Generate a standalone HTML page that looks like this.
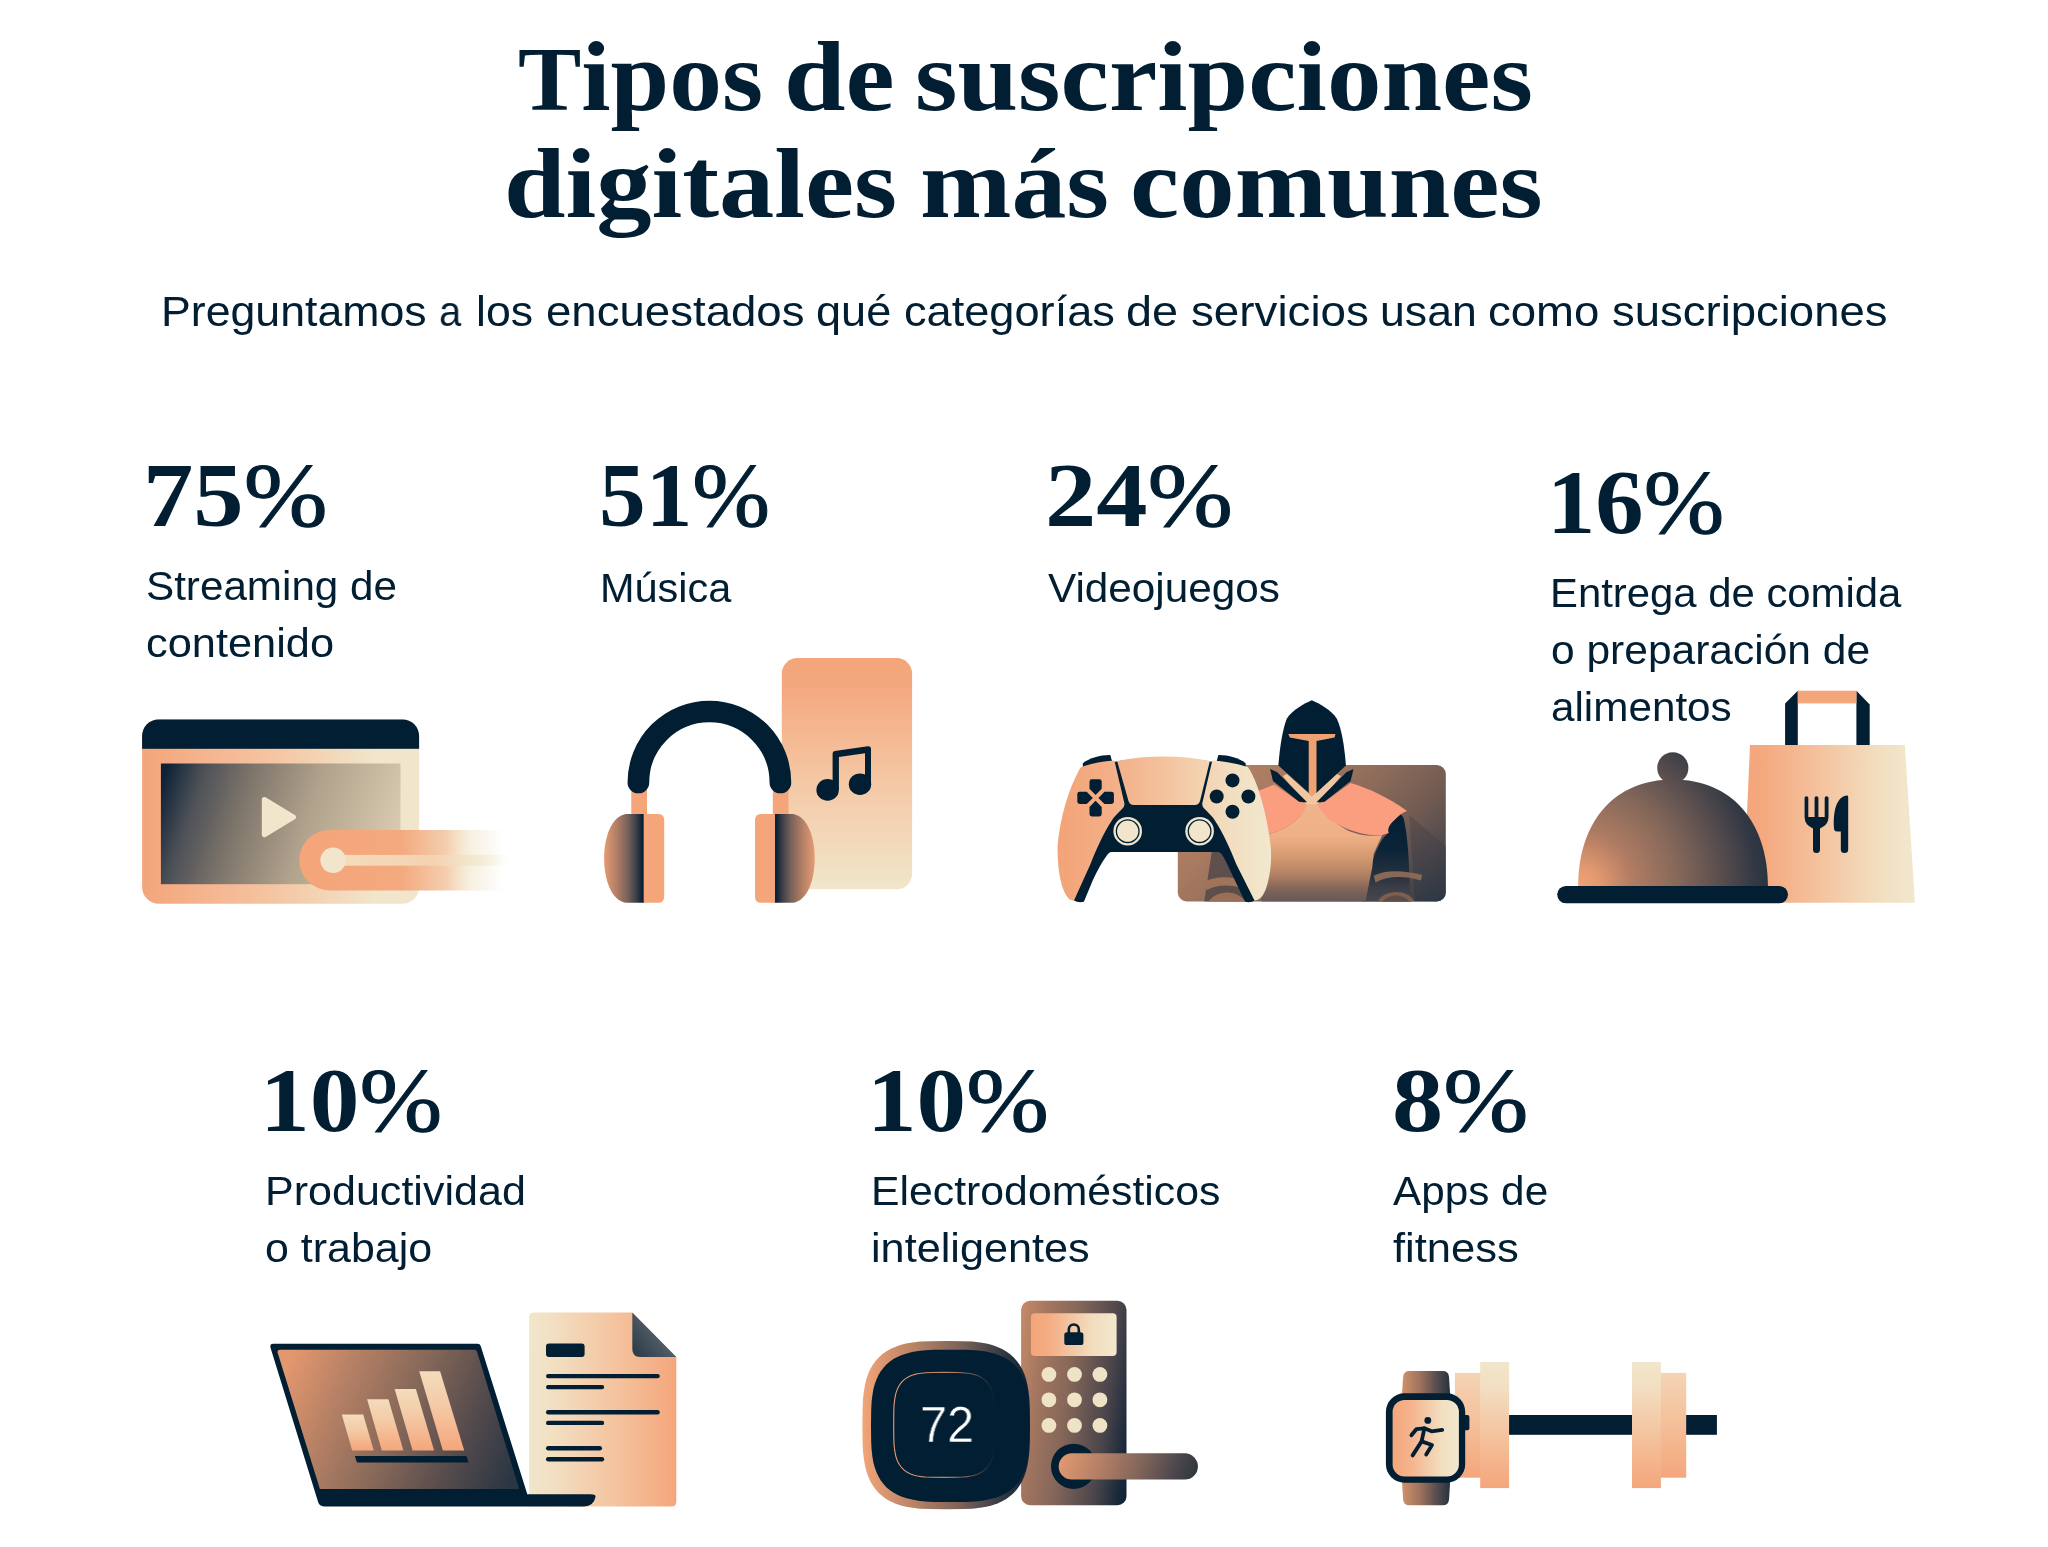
<!DOCTYPE html>
<html lang="es">
<head>
<meta charset="utf-8">
<title>Tipos de suscripciones digitales más comunes</title>
<style>
html,body{margin:0;padding:0;background:#fff;}
body{width:2048px;height:1547px;position:relative;overflow:hidden;font-family:"Liberation Sans",sans-serif;color:#011e32;}
.t{position:absolute;white-space:nowrap;line-height:1;transform-origin:0 0;margin:0;will-change:transform;}
.s{font-family:"Liberation Sans",sans-serif;font-weight:400;}
.h,.p{font-family:"Liberation Serif",serif;font-weight:700;}
svg.ic{position:absolute;left:0;top:0;width:2048px;height:1547px;overflow:visible;}
</style>
</head>
<body>
<svg class="ic" viewBox="0 0 2048 1547">
<!-- streaming window -->
<defs>
<linearGradient id="s1f" gradientUnits="userSpaceOnUse" x1="142" y1="0" x2="419" y2="0"><stop offset="0" stop-color="#f4a57a"/><stop offset="0.45" stop-color="#f5c3a0"/><stop offset="0.85" stop-color="#f1e6cb"/><stop offset="1" stop-color="#f1e6cb"/></linearGradient>
<linearGradient id="s1s" gradientUnits="userSpaceOnUse" x1="161" y1="785" x2="400" y2="862"><stop offset="0" stop-color="#0d2237"/><stop offset="0.14" stop-color="#4c5056"/><stop offset="0.34" stop-color="#80776c"/><stop offset="0.6" stop-color="#b1a28c"/><stop offset="1" stop-color="#ddcfb4"/></linearGradient>
<linearGradient id="s1p" gradientUnits="userSpaceOnUse" x1="299" y1="0" x2="503" y2="0"><stop offset="0" stop-color="#f4a57a"/><stop offset="0.5" stop-color="#f4a97f"/><stop offset="0.72" stop-color="#f3cba8" stop-opacity="0.95"/><stop offset="0.84" stop-color="#f1e6cb" stop-opacity="0.6"/><stop offset="1" stop-color="#f1e6cb" stop-opacity="0"/></linearGradient>
<linearGradient id="s1l" gradientUnits="userSpaceOnUse" x1="333" y1="0" x2="508" y2="0"><stop offset="0" stop-color="#f3ddbe"/><stop offset="0.55" stop-color="#f4d2b1"/><stop offset="0.8" stop-color="#f1e6cb" stop-opacity="0.8"/><stop offset="1" stop-color="#f1e6cb" stop-opacity="0"/></linearGradient>
<clipPath id="s1c"><rect x="142.1" y="719.5" width="277" height="184.2" rx="16.5"/></clipPath>
</defs>
<g clip-path="url(#s1c)">
<rect x="142" y="719" width="278" height="186" fill="url(#s1f)"/>
<rect x="142" y="719" width="278" height="29.8" fill="#011e32"/>
</g>
<rect x="160.9" y="763.5" width="239.6" height="120.7" fill="url(#s1s)"/>
<path d="M264.3 799.5 L293.5 817.15 L264.3 834.8Z" fill="#f1e6cb" stroke="#f1e6cb" stroke-width="5" stroke-linejoin="round"/>
<path d="M329.5 829.9 H504 V890.4 H329.5 A30.25 30.25 0 0 1 329.5 829.9Z" fill="url(#s1p)"/>
<rect x="333" y="854.9" width="175" height="10.8" fill="url(#s1l)"/>
<circle cx="333.1" cy="860.2" r="12.7" fill="#f1e6cb"/>
<!-- music: phone + headphones -->
<defs>
<linearGradient id="m2p" x1="0" y1="0" x2="0" y2="1"><stop offset="0" stop-color="#f4a57a"/><stop offset="0.12" stop-color="#f4a87e"/><stop offset="0.55" stop-color="#f4c9a6"/><stop offset="1" stop-color="#f1e6cb"/></linearGradient>
<linearGradient id="m2l" gradientUnits="userSpaceOnUse" x1="604" y1="0" x2="643.7" y2="0"><stop offset="0" stop-color="#e59c73"/><stop offset="0.3" stop-color="#b58066"/><stop offset="0.6" stop-color="#77615a"/><stop offset="0.82" stop-color="#3a3e48"/><stop offset="0.95" stop-color="#0f2337"/><stop offset="1" stop-color="#0a2036"/></linearGradient>
<linearGradient id="m2r" gradientUnits="userSpaceOnUse" x1="814.7" y1="0" x2="774.9" y2="0"><stop offset="0" stop-color="#e59c73"/><stop offset="0.3" stop-color="#b58066"/><stop offset="0.6" stop-color="#77615a"/><stop offset="0.82" stop-color="#3a3e48"/><stop offset="0.95" stop-color="#0f2337"/><stop offset="1" stop-color="#0a2036"/></linearGradient>
</defs>
<rect x="781.8" y="658.1" width="130.3" height="231.2" rx="15.5" fill="url(#m2p)"/>
<!-- note -->
<g fill="#011e32">
<ellipse cx="827.6" cy="789.9" rx="11.2" ry="10.8"/>
<ellipse cx="860" cy="784.2" rx="11.2" ry="10.8"/>
<path d="M832.6 790 V753.6 Q832.6 751.4 834.8 751 L867.8 746.3 Q871 746 871 749 V784 H865 V753.3 L838.9 757 V790Z"/>
</g>
<!-- stems -->
<rect x="631.3" y="786" width="15.7" height="30" fill="#f4a57a"/>
<rect x="772.8" y="786" width="15.7" height="30" fill="#f4a57a"/>
<!-- band -->
<path d="M638.4 782.5 A71 71 0 0 1 780.4 782.5" fill="none" stroke="#011e32" stroke-width="21.7" stroke-linecap="round"/>
<!-- left ear -->
<path d="M644 814.1 H626 C611 816.5 604.1 838 604.1 858.4 C604.1 879 611 900.5 626 902.7 H644Z" fill="url(#m2l)"/>
<path d="M643.7 814.1 H658.2 Q664.2 814.1 664.2 820.1 V896.7 Q664.2 902.7 658.2 902.7 H643.7Z" fill="#f4a57a"/>
<!-- right ear -->
<path d="M774.6 814.1 H793 C808 816.5 814.7 838 814.7 858.4 C814.7 879 808 900.5 793 902.7 H774.6Z" fill="url(#m2r)"/>
<path d="M774.9 814.1 H761 Q755 814.1 755 820.1 V896.7 Q755 902.7 761 902.7 H774.9Z" fill="#f4a57a"/>
<!-- games: knight card + controller -->
<defs>
<linearGradient id="g3bg" gradientUnits="userSpaceOnUse" x1="1178" y1="765" x2="1404.7" y2="1008.3"><stop offset="0" stop-color="#b98564"/><stop offset="0.25" stop-color="#a87a60"/><stop offset="0.45" stop-color="#8b6a59"/><stop offset="0.6" stop-color="#6f5a52"/><stop offset="0.74" stop-color="#4b464b"/><stop offset="0.85" stop-color="#2b3644"/><stop offset="1" stop-color="#2b3644"/></linearGradient>
<linearGradient id="g3ch" gradientUnits="userSpaceOnUse" x1="0" y1="803" x2="0" y2="902"><stop offset="0" stop-color="#efb58c"/><stop offset="0.33" stop-color="#efb087"/><stop offset="0.44" stop-color="#e3a57b"/><stop offset="0.58" stop-color="#cf956d"/><stop offset="0.73" stop-color="#b08063"/><stop offset="0.87" stop-color="#80655a"/><stop offset="1" stop-color="#675757"/></linearGradient>
<linearGradient id="g3arm" gradientUnits="userSpaceOnUse" x1="0" y1="815" x2="0" y2="902"><stop offset="0" stop-color="#031e33"/><stop offset="0.4" stop-color="#0c2438"/><stop offset="0.7" stop-color="#27323f"/><stop offset="0.85" stop-color="#3d3f47"/><stop offset="1" stop-color="#4a464b"/></linearGradient>
<linearGradient id="g3ray" gradientUnits="userSpaceOnUse" x1="1409" y1="815" x2="1440" y2="900"><stop offset="0" stop-color="#54484a" stop-opacity="0.55"/><stop offset="1" stop-color="#2b3644" stop-opacity="0.6"/></linearGradient>
<linearGradient id="g3pad" gradientUnits="userSpaceOnUse" x1="1057" y1="0" x2="1271" y2="0"><stop offset="0" stop-color="#f3a377"/><stop offset="0.3" stop-color="#f3b28b"/><stop offset="0.55" stop-color="#f3c7a3"/><stop offset="0.78" stop-color="#f2dcbd"/><stop offset="1" stop-color="#f1e8cf"/></linearGradient>
<clipPath id="g3c"><rect x="1177.8" y="765" width="268" height="136.5" rx="9"/></clipPath>
</defs>
<rect x="1177.8" y="765" width="268" height="136.5" rx="9" fill="url(#g3bg)"/>
<g clip-path="url(#g3c)">
<path d="M1409.2 815.1 L1446.2 846.4 L1446.2 903.3 L1414.9 903.3Z" fill="url(#g3ray)"/>
<!-- left arm shadow + bracers -->
<path d="M1212 850 L1240 850 L1244 903 L1204 903Z" fill="#4f4648" opacity="0.8"/>
<path d="M1203 882 C1215 876 1230 876 1242 880 L1242 888 C1228 884 1216 885 1207 890Z" fill="#a0745a"/>
<path d="M1208 903 C1214 890 1238 888 1246 903Z" fill="#9a6f58"/>
<!-- right arm -->
<path d="M1400.7 813.7 L1403.5 818 C1407.1 832.2 1409.2 853.5 1410.5 903.3 L1362 903.3 C1372 853.5 1380.8 837.9 1388.6 832.9 C1387.2 828.6 1389.3 825.1 1392.9 821.5Z" fill="url(#g3arm)"/>
<path d="M1373.7 875.8 C1386.5 869.2 1403.5 870.6 1422 874.8 L1421 880.5 C1403.5 875.6 1387.9 875.8 1375.6 882.6Z" fill="#8a6858"/>
<path d="M1376.8 903.3 C1381.8 889.1 1409.2 887.6 1415.3 903.3Z" fill="#7c5f50"/>
<path d="M1382 903.3 C1386 893.5 1405 892.5 1410 903.3Z" fill="#5c4d4b"/>
<!-- torso -->
<path d="M1306.1 803 L1317.5 803 C1319.6 809.4 1331 820.8 1348.1 830.8 C1358 835 1370.8 837.2 1382.2 835 L1373.7 853.5 L1372.2 867.7 L1365.1 903.3 L1261.3 903.3 L1261.3 833.6 L1271.3 833.6 C1292.6 826.5 1304 815.1 1306.1 803Z" fill="url(#g3ch)"/>
</g>
<!-- shoulders -->
<path d="M1254.2 792.4 L1274.1 784.6 L1299 801.6 L1306.8 803.7 C1304 815.1 1292.6 826.5 1271.3 833.6 L1254.2 833.6Z" fill="#fb9d7f"/>
<path d="M1316.8 803.7 L1324.5 801.8 L1350.6 783.1 C1368 788.1 1389.3 798.1 1407.1 810.9 C1402.1 812.3 1397.8 816.5 1392.9 821.5 C1389.3 825.1 1387.2 828.6 1388.6 832.9 L1382.2 835 C1368 837.2 1348.1 830.8 1331 820.8 C1323.9 815.1 1319.6 809.4 1316.8 803.7Z" fill="#fb9d7f"/>
<!-- light strips -->
<path d="M1282.7 776 L1286.9 773.9 L1311.8 795.9 L1336.7 773.9 L1341 776 L1317.5 804.2 L1306.1 804.2Z" fill="#f1c7a3"/>
<!-- helmet -->
<path d="M1311.8 700.2 C1319.6 703.5 1331 709.9 1336.7 718.4 C1341.7 728.4 1344.5 746.9 1345.9 765.4 L1316.5 792.7 L1308.7 792.7 L1278.4 765.4 C1279.8 746.9 1282.7 728.4 1286.9 718.4 C1292.6 709.9 1304 703.5 1311.8 700.2Z" fill="#011e32"/>
<path d="M1270.1 768.9 L1277.3 772.2 L1307.1 802.3 L1299.1 801.8 L1273 781Z" fill="#011e32"/>
<path d="M1353.5 768.9 L1346.4 772.2 L1316.5 802.3 L1324.5 801.8 L1350.6 781Z" fill="#011e32"/>
<path d="M1288.3 734.1 L1335.5 734.1 L1334.6 737.6 L1316.5 740.9 L1316.5 792.4 L1311.8 796.5 L1308.7 792.4 L1308.7 740.9 L1289.8 737.6Z" fill="#f0a172"/>

<!-- controller -->
<g>
<path d="M1082.8 763.2 C1090 758 1100 755 1110.3 755.1 L1112 761 L1082.8 767Z" fill="#011e32"/>
<path d="M1245.7 763.2 C1238.5 758 1228.5 755 1218.4 755.1 L1216.7 761 L1245.7 767Z" fill="#011e32"/>
<!-- navy body (inset under grips) -->
<path d="M1097 765 C1120 760 1145 757.4 1163.4 757.4 C1182 757.4 1207 760 1230 765 C1250 790 1260 830 1258 870 C1257 885 1256 895 1254.5 900.6 C1252 902.3 1248 902.5 1245.1 901.7 L1232.2 874.8 C1228 866 1225 859 1222.8 856 Q1220.5 851.9 1218.1 851.9 L1111.5 851.9 Q1109 851.9 1106.5 856 C1104 859 1098 869 1092.7 880.6 L1083.9 901.7 C1081 902.5 1077 902.3 1074 900.6 C1070 895 1068 885 1068 870 C1066 830 1077 790 1097 765Z" fill="#011e32"/>
<!-- left grip -->
<path d="M1080.4 767.5 C1090 763.5 1102 761.5 1114.4 760.5 L1124.4 803.3 Q1125 806 1122 809.1 C1118 813 1114 817 1111.5 820.9 C1104 832 1096 850 1090.4 864.2 L1074 900.6 C1072 900.5 1070 900 1068.7 898.8 C1061 890 1057.2 870 1057.6 845.5 C1060 818 1068 790 1080.4 767.5Z" fill="url(#g3pad)"/>
<!-- right grip -->
<path d="M1247.9 767.1 C1236.7 763.5 1224.7 761.5 1212.3 760.5 L1202.3 803.3 Q1201.7 806 1204.7 809.1 C1208.7 813 1212.7 817 1215.2 820.9 C1222.7 832 1230.7 850 1236.3 864.2 L1254.5 900.6 C1258.5 900.4 1261 898 1263.1 894.8 C1266.5 889.5 1269 879 1270.3 869 C1271.3 861 1271.5 850 1269.9 840.5 C1268.3 828 1265.5 814 1262.1 801.7 C1258.5 788.5 1254 776 1247.9 767.1Z" fill="url(#g3pad)"/>
<!-- touchpad -->
<path d="M1117.1 760.9 C1132 757.6 1148 756.4 1163.4 756.4 C1179 756.4 1195 757.6 1209.9 760.9 L1200 800.9 Q1198.8 805 1194.7 805 L1133.8 805 Q1129.7 805 1128.5 800.9Z" fill="url(#g3pad)"/>
<g fill="#011e32">
<path d="M1091.9 779.3 H1099.3 Q1101.7 779.3 1101.7 781.7 V788.7 L1095.6 795 L1089.5 788.7 V781.7 Q1089.5 779.3 1091.9 779.3Z"/>
<path d="M1091.9 816.4 H1099.3 Q1101.7 816.4 1101.7 814 V807 L1095.6 800.8 L1089.5 807 V814 Q1089.5 816.4 1091.9 816.4Z"/>
<path d="M1077.3 794.2 V801.6 Q1077.3 804 1079.7 804 H1086.7 L1092.8 797.9 L1086.7 791.8 H1079.7 Q1077.3 791.8 1077.3 794.2Z"/>
<path d="M1113.9 794.2 V801.6 Q1113.9 804 1111.5 804 H1104.5 L1098.4 797.9 L1104.5 791.8 H1111.5 Q1113.9 791.8 1113.9 794.2Z"/>
<circle cx="1232.5" cy="780.4" r="7"/><circle cx="1216.7" cy="796.5" r="7"/><circle cx="1248.4" cy="796.5" r="7"/><circle cx="1232.5" cy="811.7" r="7"/>
</g>
<circle cx="1127.7" cy="831.2" r="14.3" fill="#f1e6cb"/><circle cx="1127.7" cy="831.2" r="11.3" fill="none" stroke="#011e32" stroke-width="1.3"/>
<circle cx="1199.6" cy="831.2" r="14.3" fill="#f1e6cb"/><circle cx="1199.6" cy="831.2" r="11.3" fill="none" stroke="#011e32" stroke-width="1.3"/>
</g>
<!-- food: bag + cloche -->
<defs>
<linearGradient id="f4b" gradientUnits="userSpaceOnUse" x1="1743" y1="0" x2="1915" y2="0"><stop offset="0" stop-color="#f4a67b"/><stop offset="0.12" stop-color="#f4a97f"/><stop offset="0.5" stop-color="#f4c7a3"/><stop offset="0.8" stop-color="#f2dfc1"/><stop offset="1" stop-color="#f1e8cf"/></linearGradient>
<radialGradient id="f4d" gradientUnits="userSpaceOnUse" cx="1580" cy="886" r="190"><stop offset="0" stop-color="#f2a277"/><stop offset="0.1" stop-color="#e3996f"/><stop offset="0.28" stop-color="#b07c63"/><stop offset="0.52" stop-color="#85685a"/><stop offset="0.74" stop-color="#5a4e4e"/><stop offset="0.92" stop-color="#333944"/><stop offset="1" stop-color="#28333f"/></radialGradient>
</defs>
<path d="M1750 745 L1904.8 745 L1915 902.7 L1743.1 902.7Z" fill="url(#f4b)"/>
<path d="M1785.1 703.4 L1797.8 690.7 L1797.8 745 L1785.1 745Z" fill="#011e32"/>
<path d="M1856.4 690.7 L1869.7 704.4 L1869.7 745 L1856.4 745Z" fill="#011e32"/>
<rect x="1797.8" y="690.7" width="58.6" height="12.7" fill="#f4a67b"/>
<!-- fork -->
<path d="M1804.6 797.8 Q1804.6 796.2 1806.4 796.2 Q1808.3 796.2 1808.3 797.8 V817 H1814.6 V797.8 Q1814.6 796.2 1816.5 796.2 Q1818.4 796.2 1818.4 797.8 V817 H1824.7 V797.8 Q1824.7 796.2 1826.6 796.2 Q1828.5 796.2 1828.5 797.8 V817 Q1828.5 825 1820 828.4 V849.4 Q1820 852.9 1816.5 852.9 Q1813 852.9 1813 849.4 V828.4 Q1804.6 825 1804.6 817Z" fill="#011e32"/>
<!-- knife -->
<path d="M1848.2 797 V849.4 Q1848.2 852.9 1844.5 852.9 Q1840.8 852.9 1840.8 849.4 V831.4 H1837 Q1834.2 831.4 1834 828.4 C1833 812 1836 797.5 1846.5 795.6 Q1848.2 795.4 1848.2 797Z" fill="#011e32"/>
<!-- cloche -->
<circle cx="1672.8" cy="767.9" r="15.6" fill="url(#f4d)"/>
<path d="M1578.1 887 C1578.1 821 1615 779.6 1673 779.6 C1731 779.6 1767.9 821 1767.9 887Z" fill="url(#f4d)"/>
<rect x="1557.2" y="886" width="230.8" height="17.2" rx="8.6" fill="#011e32"/>
<!-- work: document + laptop -->
<defs>
<linearGradient id="w5d" gradientUnits="userSpaceOnUse" x1="529" y1="0" x2="676" y2="0"><stop offset="0" stop-color="#f1e6cb"/><stop offset="0.15" stop-color="#f2e0c3"/><stop offset="0.55" stop-color="#f4c6a2"/><stop offset="1" stop-color="#f4a67b"/></linearGradient>
<linearGradient id="w5f" gradientUnits="userSpaceOnUse" x1="634" y1="1350" x2="660" y2="1330"><stop offset="0" stop-color="#2f3e4b"/><stop offset="1" stop-color="#56626b"/></linearGradient>
<linearGradient id="w5s" gradientUnits="userSpaceOnUse" x1="285" y1="1370" x2="515" y2="1470"><stop offset="0" stop-color="#e3976e"/><stop offset="0.25" stop-color="#b37f64"/><stop offset="0.5" stop-color="#866859"/><stop offset="0.75" stop-color="#574c4d"/><stop offset="1" stop-color="#2a3643"/></linearGradient>
<linearGradient id="w5b" x1="0" y1="0" x2="0" y2="1"><stop offset="0" stop-color="#f3dcbc"/><stop offset="0.45" stop-color="#f4c9a5"/><stop offset="1" stop-color="#f4a67b"/></linearGradient>
</defs>
<path d="M534.1 1312.6 H632.3 L676.3 1356.9 V1501.4 Q676.3 1506.4 671.3 1506.4 H529.1 V1317.6 Q529.1 1312.6 534.1 1312.6Z" fill="url(#w5d)"/>
<path d="M632.3 1312.6 L676.3 1356.9 H640 Q632.3 1356.9 632.3 1349Z" fill="url(#w5f)"/>
<g fill="#011e32">
<rect x="546" y="1343.4" width="38.6" height="13.6" rx="3"/>
<rect x="546" y="1373.9" width="113.8" height="4.4" rx="2.2"/>
<rect x="546" y="1384.9" width="58.2" height="4.4" rx="2.2"/>
<rect x="546" y="1410" width="113.8" height="4.4" rx="2.2"/>
<rect x="546" y="1420.7" width="58.2" height="4.4" rx="2.2"/>
<rect x="546" y="1446" width="56" height="4.4" rx="2.2"/>
<rect x="546" y="1457" width="58.2" height="4.4" rx="2.2"/>
</g>
<!-- laptop -->
<path d="M273.2 1343.8 H477.5 Q480 1343.8 480.8 1346.2 L527.3 1494.3 H590.5 Q596 1494.3 595.5 1497 Q593.5 1506.4 584 1506.4 H324 Q319.5 1506.4 318.1 1502 L270.6 1348 Q269.5 1343.8 273.2 1343.8Z" fill="#011e32"/>
<path d="M280 1349.8 H474.2 Q476.3 1349.8 477 1351.8 L519.2 1488.9 H319.9 L277.6 1352.4 Q277 1349.8 280 1349.8Z" fill="url(#w5s)"/>
<g fill="url(#w5b)">
<path d="M341.8 1414.6 H363.2 L373.7 1450.4 H352.2Z"/>
<path d="M367.1 1399.2 H388.4 L403.4 1450.4 H381.8Z"/>
<path d="M394.6 1388.9 H415.9 L434.1 1450.4 H412.6Z"/>
<path d="M419.2 1371.3 H440.1 L464.2 1450.4 H442.9Z"/>
</g>
<path d="M354.8 1455.9 H466.4 L468.6 1462.5 H357Z" fill="#011e32"/>
<!-- smart home: thermostat + lock -->
<defs>
<linearGradient id="h6o" gradientUnits="userSpaceOnUse" x1="862" y1="0" x2="1029" y2="0"><stop offset="0" stop-color="#f2a578"/><stop offset="0.3" stop-color="#bb8466"/><stop offset="0.6" stop-color="#7a6158"/><stop offset="0.85" stop-color="#2f3743"/><stop offset="1" stop-color="#0b2136"/></linearGradient>
<linearGradient id="h6r" gradientUnits="userSpaceOnUse" x1="894" y1="0" x2="996" y2="0"><stop offset="0" stop-color="#e89d73"/><stop offset="0.6" stop-color="#b27e63"/><stop offset="1" stop-color="#b27e63" stop-opacity="0"/></linearGradient>
<linearGradient id="h6l" gradientUnits="userSpaceOnUse" x1="1021" y1="1300" x2="1158" y2="1319"><stop offset="0" stop-color="#c88b68"/><stop offset="0.2" stop-color="#a3765f"/><stop offset="0.42" stop-color="#86675a"/><stop offset="0.72" stop-color="#4a454b"/><stop offset="0.9" stop-color="#16273a"/><stop offset="1" stop-color="#0a2035"/></linearGradient>
<linearGradient id="h6d" gradientUnits="userSpaceOnUse" x1="1031" y1="0" x2="1117" y2="0"><stop offset="0" stop-color="#f4a67b"/><stop offset="0.2" stop-color="#f4ac83"/><stop offset="0.7" stop-color="#f2dcbd"/><stop offset="1" stop-color="#f1e8cf"/></linearGradient>
<linearGradient id="h6h" gradientUnits="userSpaceOnUse" x1="1062" y1="1446" x2="1192" y2="1488"><stop offset="0" stop-color="#e39a71"/><stop offset="0.3" stop-color="#b58066"/><stop offset="0.6" stop-color="#80645a"/><stop offset="0.85" stop-color="#4a464b"/><stop offset="1" stop-color="#30373f"/></linearGradient>
</defs>
<rect x="1021.1" y="1300.8" width="105.4" height="204.4" rx="9" fill="url(#h6l)"/>
<rect x="1030.9" y="1313.2" width="85.7" height="42.7" rx="4" fill="url(#h6d)"/>
<rect x="1064.3" y="1332.3" width="19.1" height="12.8" rx="2.6" fill="#011e32"/>
<path d="M1068.8 1333 V1329.5 A5 5 0 0 1 1078.8 1329.5 V1333" fill="none" stroke="#011e32" stroke-width="2.6"/>
<g fill="#efe3c6">
<circle cx="1048.9" cy="1374.4" r="7.4"/><circle cx="1074.5" cy="1374.4" r="7.4"/><circle cx="1099.9" cy="1374.4" r="7.4"/>
<circle cx="1048.9" cy="1399.8" r="7.4"/><circle cx="1074.5" cy="1399.8" r="7.4"/><circle cx="1099.9" cy="1399.8" r="7.4"/>
<circle cx="1048.9" cy="1425.4" r="7.4"/><circle cx="1074.5" cy="1425.4" r="7.4"/><circle cx="1099.9" cy="1425.4" r="7.4"/>
</g>
<circle cx="1073.6" cy="1466.3" r="22.6" fill="#011e32"/>
<rect x="1058.7" y="1453.3" width="139.2" height="26.3" rx="13.15" fill="url(#h6h)"/>
<path d="M1030.0 1425.2 L1029.8 1442.3 L1029.4 1451.5 L1028.5 1459.0 L1027.4 1465.5 L1026.0 1471.3 L1024.2 1476.5 L1022.1 1481.2 L1019.6 1485.5 L1016.8 1489.4 L1013.7 1492.9 L1010.2 1496.1 L1006.3 1498.9 L1002.1 1501.3 L997.4 1503.4 L992.2 1505.2 L986.4 1506.7 L980.0 1507.8 L972.5 1508.7 L963.3 1509.1 L946.2 1509.3 L929.1 1509.1 L919.9 1508.7 L912.4 1507.8 L906.0 1506.7 L900.2 1505.2 L895.0 1503.4 L890.3 1501.3 L886.1 1498.9 L882.2 1496.1 L878.7 1492.9 L875.6 1489.4 L872.8 1485.5 L870.3 1481.2 L868.2 1476.5 L866.4 1471.3 L865.0 1465.5 L863.9 1459.0 L863.0 1451.5 L862.6 1442.3 L862.4 1425.2 L862.6 1408.0 L863.0 1398.8 L863.9 1391.3 L865.0 1384.8 L866.4 1379.0 L868.2 1373.8 L870.3 1369.1 L872.8 1364.8 L875.6 1360.9 L878.7 1357.4 L882.2 1354.2 L886.1 1351.4 L890.3 1349.0 L895.0 1346.9 L900.2 1345.1 L906.0 1343.6 L912.4 1342.5 L919.9 1341.6 L929.1 1341.2 L946.2 1341.0 L963.3 1341.2 L972.5 1341.6 L980.0 1342.5 L986.4 1343.6 L992.2 1345.1 L997.4 1346.9 L1002.1 1349.0 L1006.3 1351.4 L1010.2 1354.2 L1013.7 1357.4 L1016.8 1360.9 L1019.6 1364.8 L1022.1 1369.1 L1024.2 1373.8 L1026.0 1379.0 L1027.4 1384.8 L1028.5 1391.3 L1029.4 1398.8 L1029.8 1408.0Z" fill="url(#h6o)"/>
<path d="M1029.4 1425.8 L1029.2 1441.4 L1028.8 1449.7 L1028.0 1456.5 L1027.0 1462.4 L1025.6 1467.6 L1023.9 1472.3 L1021.9 1476.6 L1019.6 1480.5 L1016.9 1484.0 L1014.0 1487.2 L1010.7 1490.0 L1007.0 1492.6 L1003.0 1494.8 L998.5 1496.7 L993.7 1498.3 L988.2 1499.6 L982.1 1500.7 L975.0 1501.4 L966.3 1501.9 L950.2 1502.0 L934.1 1501.9 L925.4 1501.4 L918.3 1500.7 L912.2 1499.6 L906.7 1498.3 L901.9 1496.7 L897.4 1494.8 L893.4 1492.6 L889.7 1490.0 L886.4 1487.2 L883.5 1484.0 L880.8 1480.5 L878.5 1476.6 L876.5 1472.3 L874.8 1467.6 L873.4 1462.4 L872.4 1456.5 L871.6 1449.7 L871.2 1441.4 L871.0 1425.9 L871.2 1410.3 L871.6 1402.0 L872.4 1395.2 L873.4 1389.3 L874.8 1384.1 L876.5 1379.4 L878.5 1375.1 L880.8 1371.2 L883.5 1367.7 L886.4 1364.5 L889.7 1361.7 L893.4 1359.1 L897.4 1356.9 L901.9 1355.0 L906.7 1353.4 L912.2 1352.1 L918.3 1351.0 L925.4 1350.3 L934.1 1349.8 L950.2 1349.7 L966.3 1349.8 L975.0 1350.3 L982.1 1351.0 L988.2 1352.1 L993.7 1353.4 L998.5 1355.0 L1003.0 1356.9 L1007.0 1359.1 L1010.7 1361.7 L1014.0 1364.5 L1016.9 1367.7 L1019.6 1371.2 L1021.9 1375.1 L1023.9 1379.4 L1025.6 1384.1 L1027.0 1389.3 L1028.0 1395.2 L1028.8 1402.0 L1029.2 1410.3Z" fill="#011e32"/>
<path d="M995.0 1424.9 L994.9 1438.2 L994.7 1444.2 L994.2 1448.8 L993.6 1452.7 L992.9 1456.1 L991.9 1459.2 L990.8 1461.9 L989.5 1464.3 L988.0 1466.5 L986.3 1468.4 L984.5 1470.2 L982.4 1471.7 L980.0 1473.1 L977.4 1474.2 L974.5 1475.2 L971.2 1476.0 L967.4 1476.6 L962.9 1477.0 L957.1 1477.3 L944.4 1477.4 L931.6 1477.3 L925.8 1477.0 L921.3 1476.6 L917.5 1476.0 L914.2 1475.2 L911.3 1474.2 L908.7 1473.1 L906.3 1471.7 L904.2 1470.2 L902.4 1468.4 L900.7 1466.5 L899.2 1464.3 L897.9 1461.9 L896.8 1459.2 L895.8 1456.1 L895.1 1452.7 L894.5 1448.8 L894.0 1444.2 L893.8 1438.2 L893.7 1424.9 L893.8 1411.6 L894.0 1405.6 L894.5 1401.0 L895.1 1397.1 L895.8 1393.7 L896.8 1390.6 L897.9 1387.9 L899.2 1385.5 L900.7 1383.3 L902.4 1381.4 L904.2 1379.6 L906.3 1378.1 L908.7 1376.7 L911.3 1375.6 L914.2 1374.6 L917.5 1373.8 L921.3 1373.2 L925.8 1372.8 L931.6 1372.5 L944.3 1372.4 L957.1 1372.5 L962.9 1372.8 L967.4 1373.2 L971.2 1373.8 L974.5 1374.6 L977.4 1375.6 L980.0 1376.7 L982.4 1378.1 L984.5 1379.6 L986.3 1381.4 L988.0 1383.3 L989.5 1385.5 L990.8 1387.9 L991.9 1390.6 L992.9 1393.7 L993.6 1397.1 L994.2 1401.0 L994.7 1405.6 L994.9 1411.6Z" fill="none" stroke="url(#h6r)" stroke-width="1.1"/>
<!-- fitness: dumbbell + watch -->
<defs>
<linearGradient id="t7a" gradientUnits="userSpaceOnUse" x1="0" y1="1362" x2="0" y2="1488"><stop offset="0" stop-color="#f1e6cb"/><stop offset="0.2" stop-color="#f2dfc1"/><stop offset="0.6" stop-color="#f4c29d"/><stop offset="1" stop-color="#f4a67b"/></linearGradient>
<linearGradient id="t7b" gradientUnits="userSpaceOnUse" x1="0" y1="1373" x2="0" y2="1478"><stop offset="0" stop-color="#f4d4b4"/><stop offset="0.5" stop-color="#f4bf99"/><stop offset="1" stop-color="#f4a67b"/></linearGradient>
<linearGradient id="t7w" gradientUnits="userSpaceOnUse" x1="1403" y1="0" x2="1449" y2="0"><stop offset="0" stop-color="#cc8f6a"/><stop offset="0.35" stop-color="#a1755e"/><stop offset="0.7" stop-color="#5e5050"/><stop offset="1" stop-color="#2a3542"/></linearGradient>
<linearGradient id="t7s" gradientUnits="userSpaceOnUse" x1="1392" y1="0" x2="1459" y2="0"><stop offset="0" stop-color="#f4a67b"/><stop offset="0.3" stop-color="#f4b58f"/><stop offset="0.75" stop-color="#f2dfc1"/><stop offset="1" stop-color="#f1e8cf"/></linearGradient>
</defs>
<rect x="1509" y="1415" width="207.9" height="19.8" fill="#011e32"/>
<rect x="1454.9" y="1372.9" width="30" height="104.8" fill="url(#t7b)"/>
<rect x="1480.2" y="1362" width="28.9" height="126.1" fill="url(#t7a)"/>
<rect x="1655" y="1372.9" width="31.2" height="104.8" fill="url(#t7b)"/>
<rect x="1632" y="1362" width="28.9" height="126.1" fill="url(#t7a)"/>

<!-- watch -->
<path d="M1409.6 1371.1 H1442.5 Q1448.5 1371.1 1449 1377 L1450.5 1400 H1401.6 L1403.1 1377 Q1403.6 1371.1 1409.6 1371.1Z" fill="url(#t7w)"/>
<path d="M1409.6 1505.3 H1442.5 Q1448.5 1505.3 1449 1499.4 L1450.5 1476 H1401.6 L1403.1 1499.4 Q1403.6 1505.3 1409.6 1505.3Z" fill="url(#t7w)"/>
<rect x="1463" y="1415" width="6.4" height="15.3" rx="2" fill="#011e32"/>
<rect x="1385.9" y="1393.3" width="79.3" height="89.4" rx="18.5" fill="#011e32"/>
<rect x="1392.6" y="1400" width="66.3" height="76.4" rx="12" fill="url(#t7s)"/>
<circle cx="1427.8" cy="1420.4" r="3.4" fill="#011e32"/>
<g fill="none" stroke="#011e32" stroke-width="3.8" stroke-linecap="round" stroke-linejoin="round">
<path d="M1411.4 1435.2 L1416.3 1429.2 L1424.4 1428.3 L1421.6 1441.4 L1412.6 1455.4"/>
<path d="M1424.4 1428.3 L1431.6 1431.3 L1442.2 1429.9"/>
<path d="M1421.6 1441.4 L1432 1445 L1426.2 1454.6"/>
</g>
</svg>
<div class="t h" style="left:518.10px;top:27.15px;font-size:100px;transform:scaleX(1.0543)"><span style="font-size:.9em">T</span>ipos</div>
<div class="t h" style="left:783.89px;top:27.15px;font-size:100px;transform:scaleX(1.1050)">de</div>
<div class="t h" style="left:915.35px;top:27.15px;font-size:100px;transform:scaleX(1.0903)">suscripciones</div>
<div class="t h" style="left:503.79px;top:133.85px;font-size:100px;transform:scaleX(1.1057)">digitales</div>
<div class="t h" style="left:919.65px;top:133.85px;font-size:100px;transform:scaleX(1.0977)">más</div>
<div class="t h" style="left:1129.67px;top:133.85px;font-size:100px;transform:scaleX(1.1086)">comunes</div>
<div class="t s" style="left:161.22px;top:290.46px;font-size:43.4px;transform:scaleX(1.0294)">Preguntamos</div>
<div class="t s" style="left:439.31px;top:290.46px;font-size:43.4px;transform:scaleX(0.9230)">a</div>
<div class="t s" style="left:475.57px;top:290.46px;font-size:43.4px;transform:scaleX(1.0283)">los</div>
<div class="t s" style="left:545.78px;top:290.46px;font-size:43.4px;transform:scaleX(1.0506)">encuestados</div>
<div class="t s" style="left:816.14px;top:290.46px;font-size:43.4px;transform:scaleX(1.0387)">qué</div>
<div class="t s" style="left:903.52px;top:290.46px;font-size:43.4px;transform:scaleX(1.0409)">categorías</div>
<div class="t s" style="left:1126.47px;top:290.46px;font-size:43.4px;transform:scaleX(1.0795)">de</div>
<div class="t s" style="left:1190.53px;top:290.46px;font-size:43.4px;transform:scaleX(1.0540)">servicios</div>
<div class="t s" style="left:1380.35px;top:290.46px;font-size:43.4px;transform:scaleX(1.0288)">usan</div>
<div class="t s" style="left:1487.90px;top:290.46px;font-size:43.4px;transform:scaleX(1.0499)">como</div>
<div class="t s" style="left:1612.43px;top:290.46px;font-size:43.4px;transform:scaleX(1.0479)">suscripciones</div>
<div class="t p" style="left:142.73px;top:450.52px;font-size:90px;transform:scaleX(1.1186)">75<span style="font-weight:400;-webkit-text-stroke:1px #011e32">%</span></div>
<div class="t s" style="left:146.24px;top:565.92px;font-size:41.2px;transform:scaleX(1.0245)">Streaming de</div>
<div class="t s" style="left:146.34px;top:623.32px;font-size:41.2px;transform:scaleX(1.0528)">contenido</div>
<div class="t p" style="left:598.71px;top:450.82px;font-size:90px;transform:scaleX(1.0368)">51<span style="font-weight:400;-webkit-text-stroke:1px #011e32">%</span></div>
<div class="t s" style="left:599.99px;top:568.12px;font-size:41.2px;transform:scaleX(1.0071)">Música</div>
<div class="t p" style="left:1044.99px;top:450.82px;font-size:90px;transform:scaleX(1.1398)">24<span style="font-weight:400;-webkit-text-stroke:1px #011e32">%</span></div>
<div class="t s" style="left:1047.85px;top:568.02px;font-size:41.2px;transform:scaleX(1.0264)">Videojuegos</div>
<div class="t p" style="left:1546.64px;top:457.52px;font-size:90px;transform:scaleX(1.0742)">16<span style="font-weight:400;-webkit-text-stroke:1px #011e32">%</span></div>
<div class="t s" style="left:1550.36px;top:572.62px;font-size:41.2px;transform:scaleX(1.0162)">Entrega de comida</div>
<div class="t s" style="left:1550.69px;top:629.92px;font-size:41.2px;transform:scaleX(1.0322)">o preparación de</div>
<div class="t s" style="left:1550.69px;top:687.12px;font-size:41.2px;transform:scaleX(1.0252)">alimentos</div>
<div class="t p" style="left:260.32px;top:1056.03px;font-size:90px;transform:scaleX(1.1045)">10<span style="font-weight:400;-webkit-text-stroke:1px #011e32">%</span></div>
<div class="t s" style="left:264.88px;top:1171.32px;font-size:41.2px;transform:scaleX(1.0452)">Productividad</div>
<div class="t s" style="left:264.58px;top:1228.32px;font-size:41.2px;transform:scaleX(1.0427)">o trabajo</div>
<div class="t p" style="left:867.04px;top:1056.03px;font-size:90px;transform:scaleX(1.1019)">10<span style="font-weight:400;-webkit-text-stroke:1px #011e32">%</span></div>
<div class="t s" style="left:870.70px;top:1171.32px;font-size:41.2px;transform:scaleX(1.0383)">Electrodomésticos</div>
<div class="t s" style="left:870.92px;top:1228.32px;font-size:41.2px;transform:scaleX(1.0496)">inteligentes</div>
<div class="t p" style="left:1391.97px;top:1056.03px;font-size:90px;transform:scaleX(1.1364)">8<span style="font-weight:400;-webkit-text-stroke:1px #011e32">%</span></div>
<div class="t s" style="left:1393.44px;top:1171.32px;font-size:41.2px;transform:scaleX(1.0266)">Apps de</div>
<div class="t s" style="left:1392.76px;top:1228.32px;font-size:41.2px;transform:scaleX(1.0570)">fitness</div>
<div class="t s" style="left:919.90px;top:1399.78px;font-size:50px;transform:scaleX(0.9727);color:#fff;-webkit-text-stroke:0.55px #011e32">72</div>
</body>
</html>
